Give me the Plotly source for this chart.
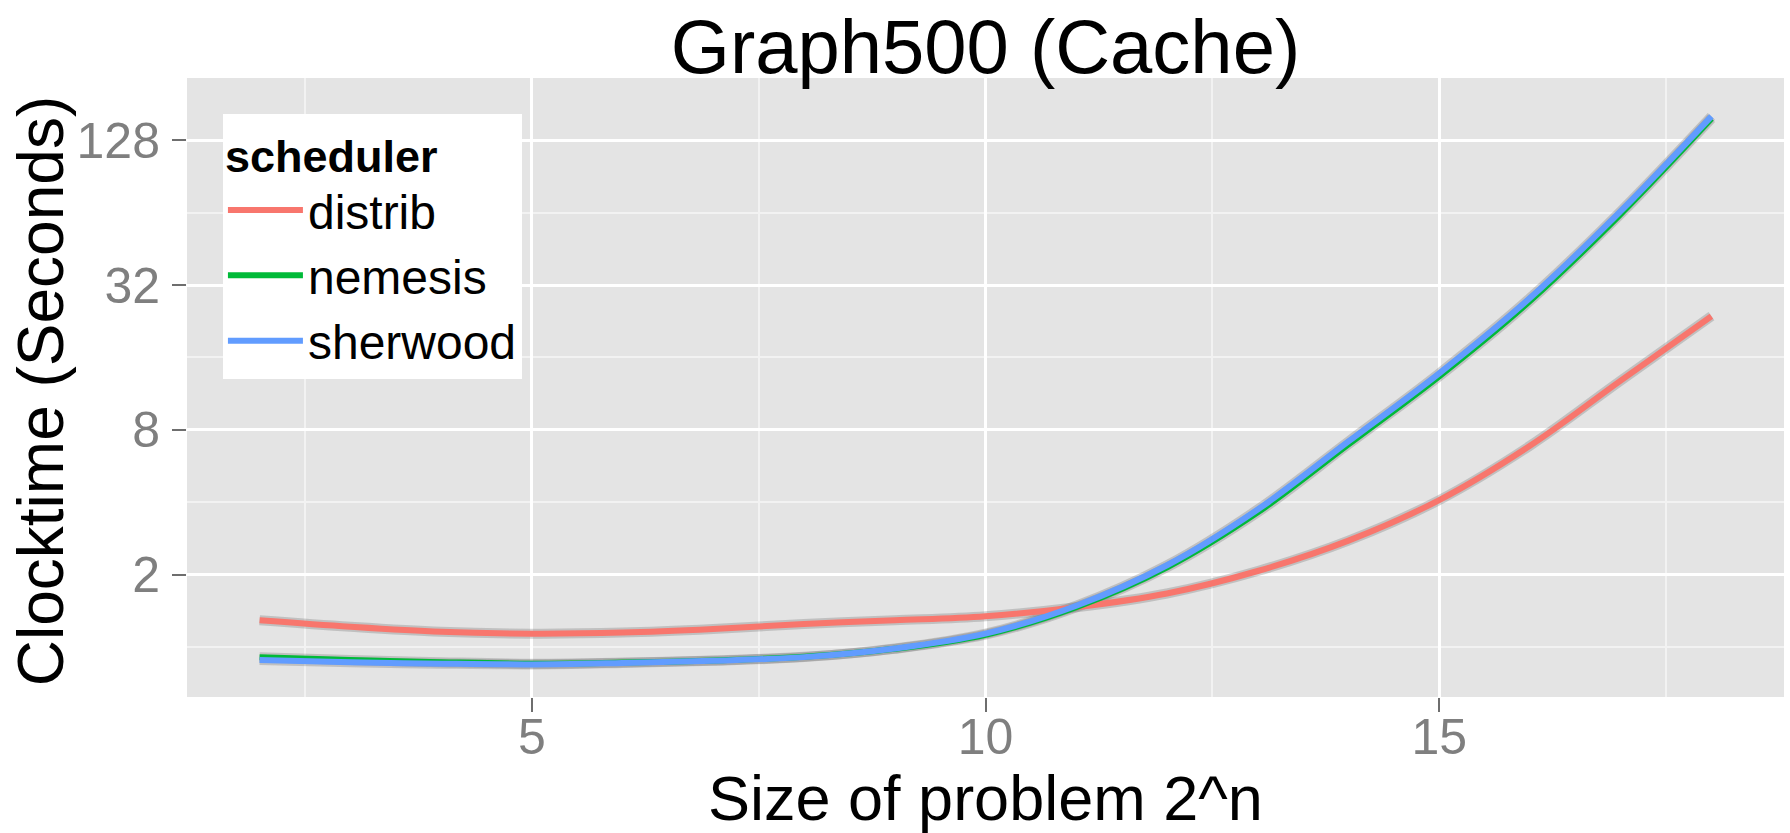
import plotly.graph_objects as go

# ---- data (loess-smoothed clock times in seconds) ----
problem_size = [2, 3, 4, 5, 6, 7, 8, 9, 10, 11, 12, 13, 14, 15, 16, 17, 18]

distrib = [1.292, 1.214, 1.157, 1.137, 1.149, 1.189, 1.248, 1.292, 1.343, 1.464,
           1.670, 2.071, 2.770, 4.084, 6.868, 12.82, 23.75]
nemesis = [0.908, 0.883, 0.865, 0.853, 0.862, 0.880, 0.911, 0.983, 1.125, 1.464,
           2.144, 3.630, 6.964, 13.36, 27.47, 63.12, 157.6]
sherwood = [0.883, 0.865, 0.853, 0.847, 0.859, 0.877, 0.908, 0.986, 1.137, 1.485,
            2.188, 3.732, 7.160, 13.74, 28.25, 64.90, 160.9]

series_names = ["distrib", "nemesis", "sherwood"]
series_values = [distrib, nemesis, sherwood]
series_colors = ["#F8766D", "#00BA38", "#619CFF"]

y_tick_vals = [2, 8, 32, 128]
y_tick_text = ["2", "8", "32", "128"]
y_minor_vals = [1, 4, 16, 64]
x_tick_vals = [5, 10, 15]
x_minor_vals = [2.5, 7.5, 12.5, 17.5]

FONT = "Liberation Sans, Arial, Helvetica, sans-serif"

fig = go.Figure()

# grey confidence-band shadow under each smooth
for name, vals in zip(series_names, series_values):
    fig.add_trace(go.Scatter(
        x=problem_size, y=vals, mode="lines",
        line=dict(color="rgba(110,110,110,0.30)", width=10, shape="spline", smoothing=1.0),
        showlegend=False, hoverinfo="skip"))

for name, vals, col in zip(series_names, series_values, series_colors):
    fig.add_trace(go.Scatter(
        x=problem_size, y=vals, mode="lines", name=name,
        line=dict(color=col, width=6, shape="spline", smoothing=1.0)))

fig.update_layout(
    width=1790, height=833,
    paper_bgcolor="white", plot_bgcolor="#E4E4E4",
    margin=dict(l=187, r=6, t=78, b=136, autoexpand=False),
    font=dict(family=FONT, color="black"),
    title=dict(text="Graph500 (Cache)", x=0.5, xref="paper", xanchor="center",
               y=1 - 46 / 833, yref="container", yanchor="middle",
               font=dict(size=76, family=FONT, color="black")),
    showlegend=True,
    legend=dict(
        x=0.0225, y=0.9423, xanchor="left", yanchor="top",
        bgcolor="white", borderwidth=0,
        title=dict(text="<b>scheduler</b>", font=dict(size=45, family=FONT, color="black")),
        font=dict(size=48, family=FONT, color="black"),
        traceorder="normal", itemwidth=75,
    ),
)

fig.update_xaxes(
    range=[1.2, 18.8], showline=False, zeroline=False,
    tickmode="array", tickvals=x_tick_vals, ticktext=[str(v) for v in x_tick_vals],
    ticks="outside", ticklen=14, tickwidth=2, tickcolor="#6E6E6E",
    ticklabelstandoff=-18,
    tickfont=dict(size=50, color="#7F7F7F", family=FONT),
    showgrid=True, gridcolor="white", gridwidth=3,
    minor=dict(tickmode="array", tickvals=x_minor_vals, showgrid=True,
               gridcolor="#F2F2F2", gridwidth=1.5, ticks=""),
)
fig.update_yaxes(
    type="log", range=[-0.2077, 2.366], showline=False, zeroline=False,
    tickmode="array", tickvals=y_tick_vals, ticktext=y_tick_text,
    ticks="outside", ticklen=14, tickwidth=2, tickcolor="#6E6E6E",
    ticklabelstandoff=2,
    tickfont=dict(size=50, color="#7F7F7F", family=FONT),
    showgrid=True, gridcolor="white", gridwidth=3,
    minor=dict(tickmode="array", tickvals=y_minor_vals, showgrid=True,
               gridcolor="#F2F2F2", gridwidth=1.5, ticks=""),
)

# axis titles
fig.add_annotation(text="Size of problem 2^n", xref="paper", yref="paper",
                   x=0.5, y=0, xanchor="center", yanchor="middle", yshift=-101,
                   showarrow=False, font=dict(size=63, family=FONT, color="black"))
fig.add_annotation(text="Clocktime (Seconds)", xref="paper", yref="paper",
                   x=0, y=0.494, xanchor="center", yanchor="middle", xshift=-146,
                   textangle=-90, showarrow=False,
                   font=dict(size=64, family=FONT, color="black"))

fig.write_html("out.html", config={"displayModeBar": False},
               post_script="document.body.style.margin='0px';")
